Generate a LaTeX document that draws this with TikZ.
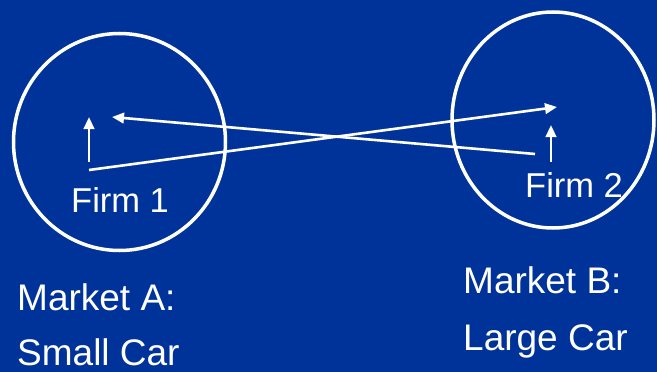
\documentclass[tikz,border=0pt]{standalone}
\usepackage{fontspec}
\setmainfont{Liberation Sans}
\usetikzlibrary{arrows.meta,shapes.geometric}
\definecolor{slideblue}{RGB}{0,51,153}
\begin{document}
\begin{tikzpicture}[
  x=1pt, y=-1pt,
  every node/.style={inner sep=0pt, text=white},
  market/.style={ellipse, draw=white, line width=3.5pt},
  firmlabel/.style={anchor=base west, font=\fontsize{34.5}{38}\selectfont},
  marketlabel/.style={anchor=base west, font=\fontsize{37}{41}\selectfont},
  flow/.style={draw=white, line width=2.6pt,
               -{Triangle[length=12pt,width=10.5pt]}}
]
\fill[slideblue] (0,0) rectangle (657,372);
\useasboundingbox (0,0) rectangle (657,372);

% MARKET A: SMALL CAR
\node[market, minimum width=212pt, minimum height=217pt] (mA) at (119.5,142) {};
\coordinate (f1base) at (89,170);
\coordinate (f1stem) at (89,162);
\coordinate (f1tip) at (89,117);
\coordinate (f1in) at (112,117);
\node[firmlabel] (f1) at (71,212) {Firm 1};
\node[marketlabel] (lA1) at (17,310) {Market A:};
\node[marketlabel] (lA2) at (17,365) {Small Car};

% MARKET B: LARGE CAR
\node[market, minimum width=202pt, minimum height=216pt] (mB) at (553,120) {};
\coordinate (f2base) at (535,154);
\coordinate (f2stem) at (551,162);
\coordinate (f2tip) at (551,125);
\coordinate (f2in) at (557,107);
\node[firmlabel] (f2) at (525,197) {Firm 2};
\node[marketlabel] (lB1) at (463,293) {Market B:};
\node[marketlabel] (lB2) at (463,350) {Large Car};

% ARROWS
\draw[flow] (f1stem) -- (f1tip);
\draw[flow] (f2stem) -- (f2tip);
\draw[flow] (f1base) -- (f2in);
\draw[flow] (f2base) -- (f1in);
\end{tikzpicture}
\end{document}
